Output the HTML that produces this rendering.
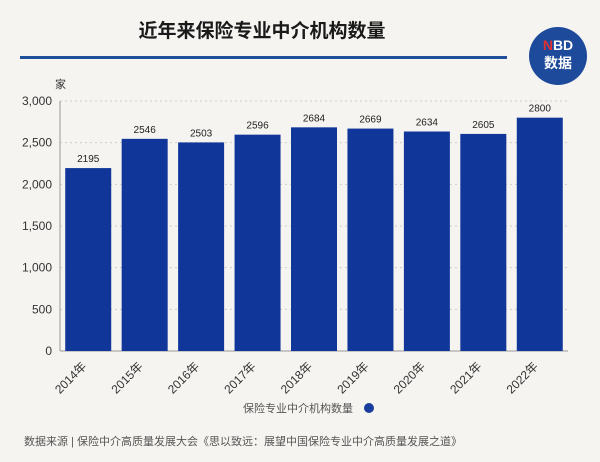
<!DOCTYPE html>
<html><head><meta charset="utf-8"><style>
body{margin:0;background:#f6f4f1;}
svg{display:block;font-family:"Liberation Sans","Noto Sans CJK SC",sans-serif;}
</style></head><body>
<svg width="600" height="462">
<rect width="600" height="462" fill="#f6f4f1"/>
<text x="262" y="37" text-anchor="middle" font-size="19" font-weight="bold" fill="#1a1a1a">近年来保险专业中介机构数量</text>
<rect x="20" y="56" width="487" height="3" fill="#1f4f9a"/>
<g>
<circle cx="558" cy="56" r="29" fill="#1e4a9c"/>
<text x="558" y="50" text-anchor="middle" font-size="14" font-weight="bold" fill="#fff"><tspan fill="#e03030">N</tspan>BD</text>
<text x="558" y="68" text-anchor="middle" font-size="14" font-weight="bold" fill="#fff">数据</text>
</g>
<text x="55" y="88" font-size="11" fill="#333">家</text>
<g id="axes"></g>
<g id="bars"></g>
<text x="298" y="412" text-anchor="middle" font-size="11" fill="#555">保险专业中介机构数量</text>
<circle cx="369" cy="408" r="5" fill="#1a3e9e"/>
<text x="24" y="445" font-size="11" fill="#555">数据来源 | 保险中介高质量发展大会《思以致远：展望中国保险专业中介高质量发展之道》</text>
</svg>
<script>
const categories=["2014年","2015年","2016年","2017年","2018年","2019年","2020年","2021年","2022年"];
const values=[2195,2546,2503,2596,2684,2669,2634,2605,2800];
const ticks=[0,500,1000,1500,2000,2500,3000];
const tickLabels=["0","500","1,000","1,500","2,000","2,500","3,000"];
const NS="http://www.w3.org/2000/svg";
const x0=60,x1=568,y0=351,yTop=101,yMax=3000;
const band=(x1-x0)/categories.length;
const y=v=>y0-(v/yMax)*(y0-yTop);
const xb=i=>x0+i*band;
function mk(tag,attrs,parent){const e=document.createElementNS(NS,tag);for(const k in attrs)e.setAttribute(k,attrs[k]);parent.appendChild(e);return e;}
const ax=document.getElementById('axes'),bg=document.getElementById('bars');
ticks.forEach((t,i)=>{
 if(t>0){const g=mk('line',{x1:x0,x2:x1,y1:y(t),y2:y(t),stroke:'#ccc','stroke-dasharray':'2,3'},ax);
 
 }
 const l=mk('text',{x:x0-8,y:y(t)+4,'text-anchor':'end','font-size':12,fill:'#333'},ax);
 l.textContent=tickLabels[i];
 
 
});
const ya=mk('line',{x1:x0,x2:x0,y1:yTop,y2:y0,stroke:'#999'},ax);


const xa=mk('line',{x1:x0,x2:x1,y1:y0,y2:y0,stroke:'#999'},ax);


categories.forEach((c,i)=>{
 const bw=46,bx=xb(i)+(band-bw)/2;
 const r=mk('rect',{x:bx,y:y(values[i]),width:bw,height:y0-y(values[i]),fill:'#11369a'},bg);
 
 
 const v=mk('text',{x:bx+bw/2,y:y(values[i])-6,'text-anchor':'middle','font-size':10,fill:'#222'},bg);
 v.textContent=values[i];
 
 
 const cx=bx+bw/2-1,cy=y0+16;
 const t=mk('text',{x:cx,y:cy,'text-anchor':'end','font-size':12,fill:'#333',transform:`rotate(-45 ${cx} ${cy})`},bg);
 t.textContent=c;
 
 
});
</script>
</body></html>
